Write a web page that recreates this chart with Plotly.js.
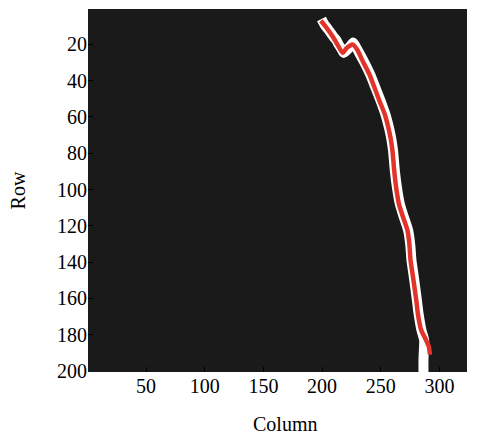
<!DOCTYPE html>
<html>
<head>
<meta charset="utf-8">
<script src="https://cdn.plot.ly/plotly-3.0.1.min.js"></script>
<style>
  html, body { margin: 0; padding: 0; background: #ffffff; }
  #chart { width: 480px; height: 434px; }
</style>
</head>
<body>
<div id="chart"></div>
<script>
// Image size in pixels (columns x rows)
const imageCols = 323;
const imageRows = 200;

// Segmented region (white mask): centre line, row and column
const maskRow = [6, 9, 12, 15.6, 18, 20, 22.5, 24.7, 23, 21, 19, 21, 24, 29.3, 36.6, 43.9, 51.3, 58.6, 65.9, 72, 78.7, 89.7, 100.6, 108, 114.4, 122.6, 130.8, 139.1, 147.3, 155, 162, 168.3, 177.5, 183, 188, 194, 201];
const maskCol = [199.5, 202, 205.5, 209.5, 212.5, 214, 216.5, 218.5, 221.5, 224, 226.5, 228.5, 231, 235.5, 241, 245.5, 250, 254, 257, 259, 260.5, 262, 264.2, 266.3, 269.3, 273.4, 275.2, 276.2, 278, 279.6, 281, 282.2, 284.7, 287, 286.8, 286.4, 286.4];

// Traced path through the region, row and column
const pathRow = [7, 11, 15.6, 20, 24.7, 22, 20, 23, 29.3, 36.6, 43.9, 51.3, 58.6, 65.9, 72, 78.7, 89.7, 100.6, 108, 114.4, 122.6, 130.8, 139.1, 147.3, 155, 162, 168.3, 177.5, 183, 186.7, 191];
const pathCol = [199, 204, 209, 213, 217.5, 221, 226, 230, 234.7, 240.4, 244.7, 249, 253.5, 256.5, 258.5, 260, 261.5, 263.5, 265.5, 268.6, 272.8, 274.5, 275.4, 277.3, 279, 280.5, 281.6, 284.5, 288.7, 291, 292];

// Axis tick values
const xTicks = [50, 100, 150, 200, 250, 300];
const yTicks = [20, 40, 60, 80, 100, 120, 140, 160, 180, 200];

const traces = [
  {
    type: 'scatter', mode: 'lines',
    x: maskCol, y: maskRow,
    line: { color: '#ffffff', width: 10, shape: 'spline', smoothing: 0.5 },
    hoverinfo: 'skip', showlegend: false
  },
  {
    type: 'scatter', mode: 'lines',
    x: pathCol, y: pathRow,
    line: { color: '#e3342b', width: 4.5, shape: 'spline', smoothing: 0.5 },
    showlegend: false
  }
];

const font = { family: 'Liberation Serif', size: 20, color: '#000000' };

const layout = {
  width: 480, height: 434,
  margin: { l: 88, r: 13, t: 9, b: 62 },
  paper_bgcolor: '#ffffff',
  plot_bgcolor: '#1a1a1a',
  font: font,
  showlegend: false,
  xaxis: {
    range: [0.5, imageCols + 0.5],
    tickvals: xTicks,
    ticks: 'inside', ticklen: 5, tickcolor: '#000000',
    showgrid: false, zeroline: false, showline: false,
    tickfont: font
  },
  yaxis: {
    range: [imageRows + 0.5, 0.5],
    tickvals: yTicks,
    ticks: 'inside', ticklen: 5, tickcolor: '#000000',
    showgrid: false, zeroline: false, showline: false,
    tickfont: font,
    title: { text: 'Row', font: font, standoff: 26 }
  },
  annotations: [
    {
      text: 'Column', font: font, showarrow: false,
      xref: 'paper', yref: 'paper',
      x: 0.521, y: -0.143, xanchor: 'center', yanchor: 'middle'
    }
  ]
};

Plotly.newPlot('chart', traces, layout, { displayModeBar: false, staticPlot: true });
</script>
</body>
</html>
